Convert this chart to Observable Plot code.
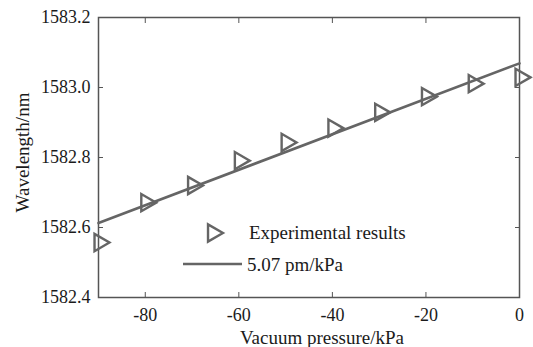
<!DOCTYPE html>
<html><head><meta charset="utf-8">
<script src="https://cdn.jsdelivr.net/npm/d3@7"></script>
<script src="https://cdn.jsdelivr.net/npm/@observablehq/plot@0.6"></script>
<style>
html,body{margin:0;padding:0;background:#fff;}
#wrap{position:relative;width:533px;height:347px;font-family:"Liberation Serif","Times New Roman",serif;}
#wrap svg.overlay{position:absolute;left:0;top:0;pointer-events:none;}
</style></head><body><div id="wrap"></div>
<script>
const pressure = [-90, -80, -70, -60, -50, -40, -30, -20, -10, 0];
const wavelength = [1582.557, 1582.671, 1582.720, 1582.791, 1582.843, 1582.884, 1582.929, 1582.974, 1583.011, 1583.029];
// Linear fit (5.07 pm/kPa) end points
const fitPressure = [-90, 0];
const fitWavelength = [1582.613, 1583.069];
// Axes
const xTicks = [-80, -60, -40, -20, 0];
const yTicks = [1582.4, 1582.6, 1582.8, 1583.0, 1583.2];
const xLabel = "Vacuum pressure/kPa";
const yLabel = "Wavelength/nm";
const legendLabels = ["Experimental results", "5.07 pm/kPa"];

const gray = "#656565";
const axisColor = "#555";
const textColor = "#1b1b1b";
const triR = 6.4;

const points = pressure.map((p, i) => ({p, w: wavelength[i]}));
const fit = fitPressure.map((p, i) => ({p, w: fitWavelength[i]}));
const fmtX = d => d < 0 ? "-" + Math.abs(d) : String(d);
const fmtY = d => d3.format(".1f")(d);

const chart = Plot.plot({
  width: 533, height: 347,
  marginLeft: 98, marginRight: 14, marginTop: 17, marginBottom: 50,
  style: {fontFamily: '"Liberation Serif", "Times New Roman", serif', fontSize: "18px", color: textColor, background: "#fff", overflow: "visible"},
  x: {domain: [-90, 0]},
  y: {domain: [1582.4, 1583.2]},
  marks: [
    Plot.axisX(xTicks, {anchor: "bottom", tickSize: -5, tickPadding: 16, label: null, tickFormat: fmtX, stroke: axisColor, fill: textColor, fontSize: 18}),
    Plot.axisX(xTicks, {anchor: "top", tickSize: -5, label: null, tickFormat: () => "", stroke: axisColor}),
    Plot.axisY(yTicks, {anchor: "left", tickSize: -5, tickPadding: 13, label: null, tickFormat: fmtY, stroke: axisColor, fill: textColor, fontSize: 18}),
    Plot.axisY(yTicks, {anchor: "right", tickSize: -5, label: null, tickFormat: () => "", stroke: axisColor}),
    Plot.frame({stroke: axisColor, strokeWidth: 1.5}),
    Plot.text([xLabel], {frameAnchor: "bottom", dy: 40, dx: 13, fontSize: 19, fill: textColor, textAnchor: "middle", lineAnchor: "middle"}),
    Plot.text([yLabel], {frameAnchor: "left", rotate: -90, dx: -76, dy: -5, fontSize: 19, fill: textColor, textAnchor: "middle", lineAnchor: "middle"}),
    Plot.dot(points, {x: "p", y: "w", symbol: "triangle", r: triR, rotate: 90, stroke: gray, strokeWidth: 2.4, fill: "none", dx: 1}),
    Plot.line(fit, {x: "p", y: "w", stroke: gray, strokeWidth: 2.6})
  ]
});
const wrap = document.getElementById("wrap");
wrap.appendChild(chart);

// Legend overlay
const ov = d3.select(wrap).append("svg").attr("class", "overlay").attr("width", 533).attr("height", 347);
ov.append("path")
  .attr("d", d3.symbol(d3.symbolTriangle, Math.PI * triR * triR)())
  .attr("transform", "translate(213,233) rotate(90)")
  .attr("fill", "none").attr("stroke", gray).attr("stroke-width", 2.4);
ov.append("line").attr("x1", 183).attr("x2", 242).attr("y1", 264).attr("y2", 264)
  .attr("stroke", gray).attr("stroke-width", 2.6);
ov.selectAll("text.leg").data(legendLabels).join("text").attr("class", "leg")
  .attr("x", (d, i) => i === 0 ? 249 : 247)
  .attr("y", (d, i) => i === 0 ? 232 : 264)
  .attr("dy", "0.35em")
  .attr("fill", textColor)
  .style("font-family", '"Liberation Serif", "Times New Roman", serif')
  .style("font-size", "19px")
  .text(d => d);
</script></body></html>
